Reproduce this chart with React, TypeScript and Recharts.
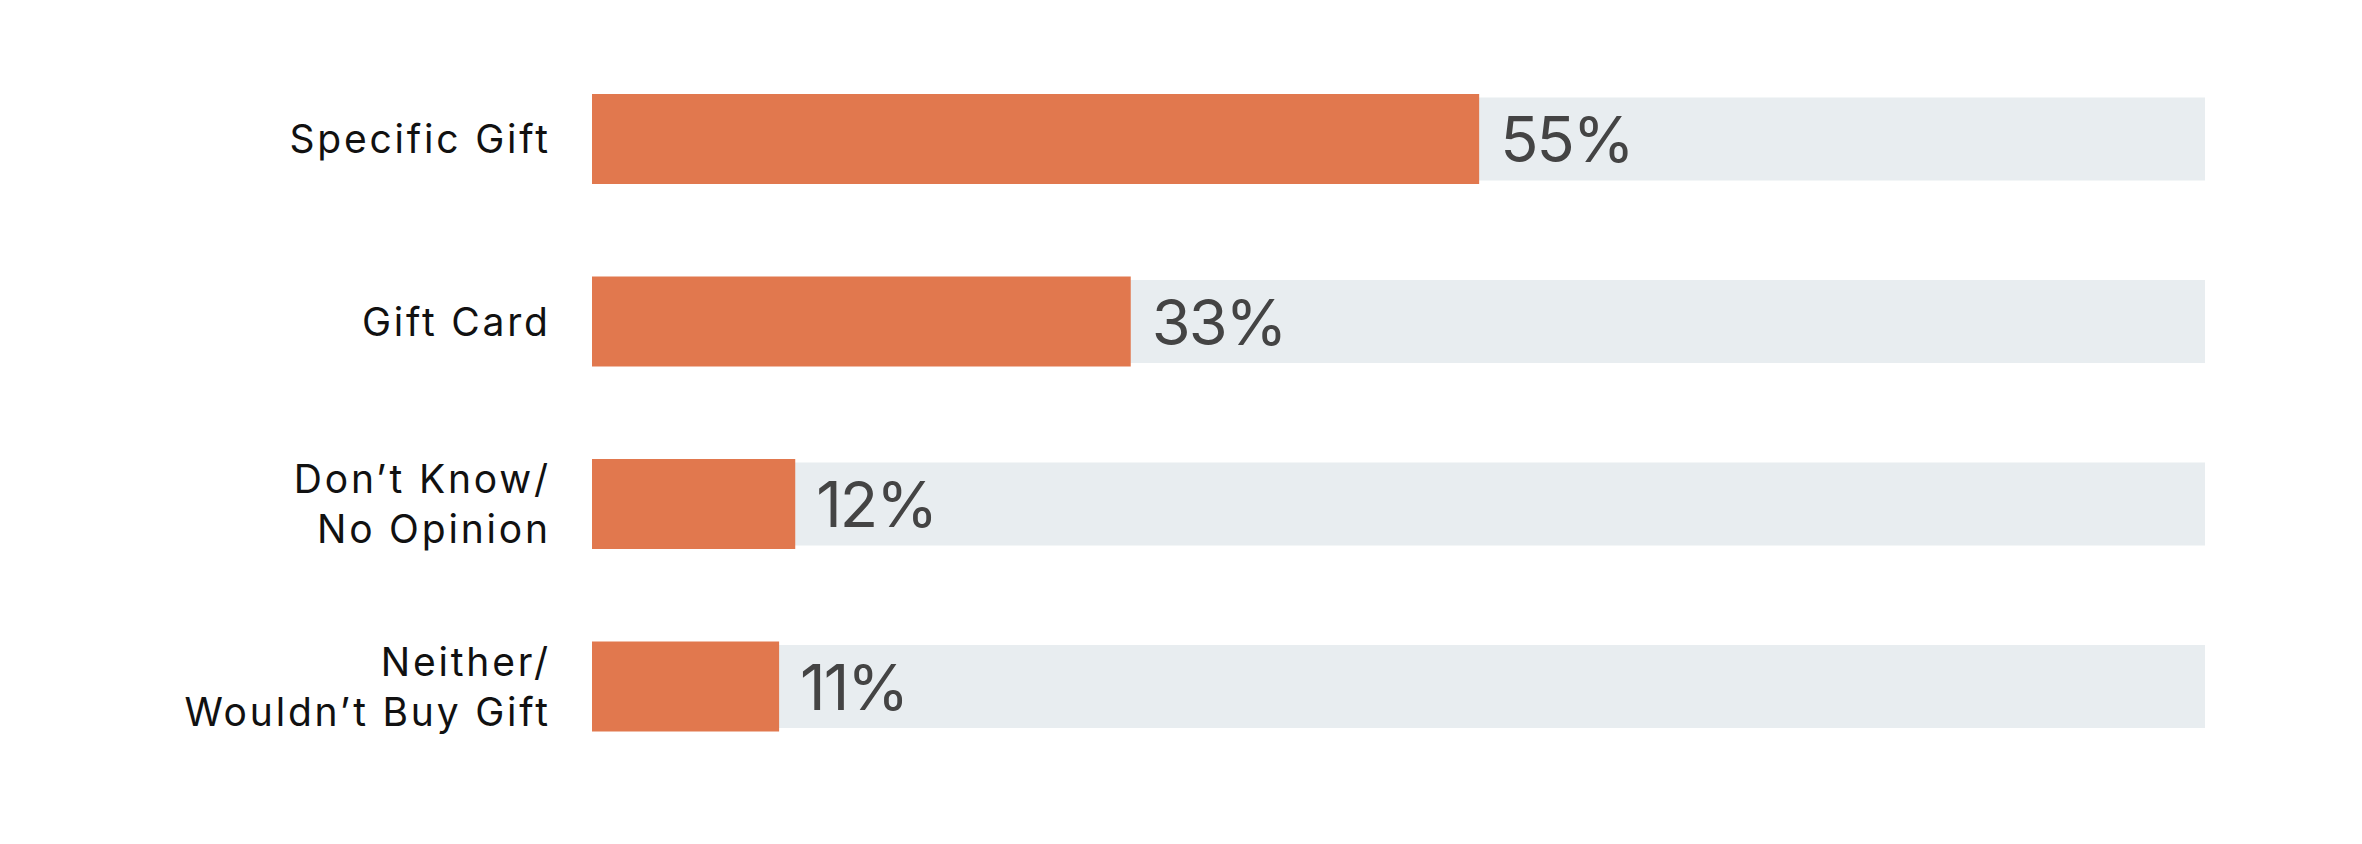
import React from 'react';
import { BarChart, Bar, XAxis, YAxis, LabelList } from 'recharts';

const categories = [
  'Specific Gift',
  'Gift Card',
  'Don\u2019t Know/\nNo Opinion',
  'Neither/\nWouldn\u2019t Buy Gift',
];
const values = [55, 33.4, 12.6, 11.6];
const valueLabels = ['55%', '33%', '12%', '11%'];

const data = categories.map((c, i) => ({ name: c, value: values[i], label: valueLabels[i] }));

const FONT = 'Inter, "Open Sans", sans-serif';
const LABEL_SPACING = 2.8;

const CategoryTick = (props: any) => {
  const { x, y, payload } = props;
  const lines = String(payload.value).split('\n');
  const lh = 50;
  const startY = y - ((lines.length - 1) * lh) / 2 + 14;
  const tx = Number(x) + LABEL_SPACING;
  return (
    <g>
      {lines.map((l, i) => (
        <text
          key={i}
          x={tx}
          y={startY + i * lh}
          textAnchor="end"
          fill="#111111"
          fontSize={39}
          letterSpacing={LABEL_SPACING}
          fontFamily={FONT}
        >
          {l}
        </text>
      ))}
    </g>
  );
};

const ValueLabel = (props: any) => {
  const { x, y, width, height, value } = props;
  return (
    <text
      x={Number(x) + Number(width) + 21}
      y={Number(y) + Number(height) / 2 + 23}
      fill="#444444"
      fontSize={63}
      letterSpacing={-2}
      fontFamily={FONT}
    >
      {value}
    </text>
  );
};

const Background = (props: any) => {
  const { x, y, width, height } = props;
  return <rect x={x} y={y + 3.5} width={width} height={height - 7} fill="#E8EDF0" />;
};

export default function App() {
  return (
    <div style={{ position: 'absolute', left: 0, top: 0, width: 2362, height: 844, background: '#fff' }}>
      <BarChart
        width={2362}
        height={844}
        data={data}
        layout="vertical"
        margin={{ top: 48, right: 157, bottom: 66, left: 0 }}
        barSize={90}
      >
        <XAxis type="number" domain={[0, 100]} hide />
        <YAxis
          type="category"
          dataKey="name"
          width={592}
          axisLine={false}
          tickLine={false}
          tickSize={0}
          tickMargin={44}
          interval={0}
          tick={<CategoryTick />}
        />
        <Bar dataKey="value" fill="#E1784E" isAnimationActive={false} background={<Background />}>
          <LabelList dataKey="label" content={<ValueLabel />} />
        </Bar>
      </BarChart>
    </div>
  );
}
